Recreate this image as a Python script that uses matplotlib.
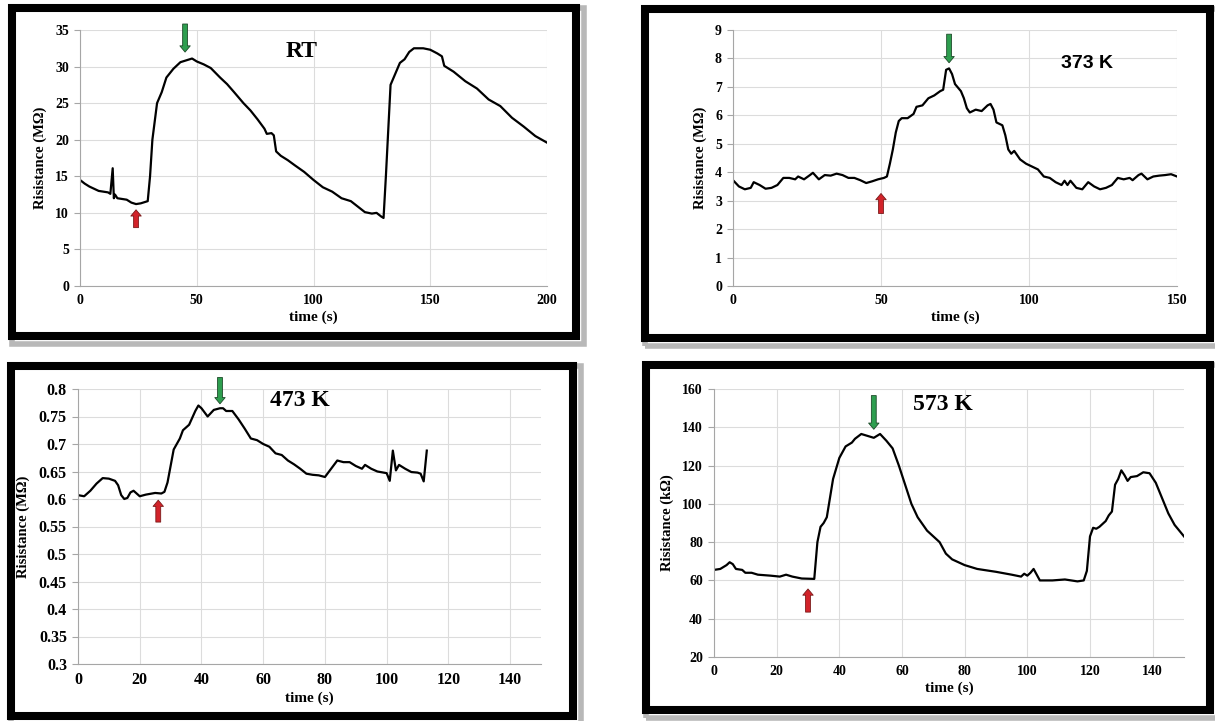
import matplotlib
matplotlib.use('Agg')
import matplotlib.pyplot as plt
from matplotlib.patches import Rectangle

# RT
rt_t = [0, 2, 4, 6, 8, 10, 12, 13, 14, 14.5, 15, 16, 18, 20, 22, 24, 26, 28, 29, 30, 31, 33,
        35, 37, 40, 43, 46, 48, 50, 53, 56, 60, 63, 66, 70, 73, 76, 79, 80, 82, 83, 84, 86,
        89, 92, 96, 100, 104, 108, 112, 116, 120, 122, 125, 127, 129, 130, 131, 133, 135,
        137, 139, 141, 143, 147, 150, 153, 155, 156, 160, 165, 170, 175, 180, 185, 190, 195, 200]
rt_r = [14.5, 14.0, 13.6, 13.3, 13.0, 12.9, 12.8, 12.6, 16.1, 12.0, 12.5, 12.0, 11.9, 11.8,
        11.4, 11.2, 11.3, 11.5, 11.6, 15.0, 20.0, 25.0, 26.5, 28.5, 29.7, 30.6, 30.9, 31.1,
        30.7, 30.3, 29.8, 28.5, 27.6, 26.5, 25.0, 24.0, 22.8, 21.5, 20.8, 20.9, 20.6, 18.4,
        17.8, 17.2, 16.5, 15.6, 14.5, 13.5, 12.9, 12.0, 11.6, 10.6, 10.1, 9.9, 10.0, 9.5,
        9.3, 15.0, 27.5, 29.0, 30.5, 31.0, 32.0, 32.5, 32.5, 32.3, 31.8, 31.4, 30.1, 29.3,
        28.0, 27.0, 25.5, 24.6, 23.0, 21.8, 20.5, 19.6]

# 373 K
k373_t = [0, 2, 4, 6, 7, 9, 11, 13, 15, 17, 19, 21, 22, 24, 26, 27, 29, 31, 33, 35, 37, 39,
          41, 43, 45, 47, 49, 51, 52, 53, 54, 55, 56, 57, 59, 61, 62, 64, 66, 68, 70, 71, 72,
          73, 74, 75, 77, 78, 79, 80, 82, 84, 86, 87, 88, 89, 91, 92, 93, 94, 95, 97, 99,
          101, 103, 105, 107, 109, 111, 112, 113, 114, 116, 118, 120, 122, 124, 126, 128,
          130, 132, 134, 135, 137, 138, 140, 142, 144, 146, 148, 150]
k373_r = [3.72, 3.5, 3.4, 3.45, 3.65, 3.55, 3.42, 3.45, 3.55, 3.8, 3.8, 3.75, 3.85, 3.75,
          3.9, 3.98, 3.75, 3.9, 3.88, 3.95, 3.9, 3.8, 3.8, 3.72, 3.62, 3.68, 3.75, 3.8, 3.85,
          4.3, 4.8, 5.4, 5.8, 5.9, 5.9, 6.05, 6.3, 6.35, 6.6, 6.7, 6.85, 6.9, 7.6, 7.65, 7.45,
          7.1, 6.85, 6.6, 6.25, 6.1, 6.2, 6.15, 6.35, 6.4, 6.2, 5.75, 5.65, 5.3, 4.8, 4.65,
          4.75, 4.45, 4.3, 4.2, 4.1, 3.85, 3.8, 3.65, 3.55, 3.7, 3.55, 3.7, 3.45, 3.4, 3.65,
          3.5, 3.4, 3.45, 3.55, 3.8, 3.75, 3.8, 3.72, 3.9, 3.95, 3.75, 3.85, 3.88, 3.9, 3.93, 3.85]

# 473 K
k473_t = [0, 2, 4, 6, 8, 10, 12, 13, 14, 15, 16, 17, 18, 20, 22, 25, 27, 28, 29, 30, 31, 33,
          34, 36, 38, 39, 40, 42, 44, 46, 47, 48, 50, 52, 54, 56, 58, 60, 62, 64, 66, 68, 70,
          72, 74, 76, 78, 80, 82, 84, 86, 88, 90, 92, 93, 95, 97, 99, 100, 101, 102, 103, 104,
          106, 108, 110, 111, 112, 113]
k473_r = [0.607, 0.605, 0.615, 0.628, 0.638, 0.637, 0.633, 0.625, 0.607, 0.600, 0.602,
          0.612, 0.615, 0.605, 0.608, 0.611, 0.610, 0.613, 0.630, 0.660, 0.690, 0.710,
          0.725, 0.735, 0.760, 0.770, 0.765, 0.750, 0.762, 0.765, 0.765, 0.760, 0.760,
          0.745, 0.728, 0.710, 0.707, 0.700, 0.695, 0.683, 0.680, 0.670, 0.663, 0.655,
          0.646, 0.644, 0.643, 0.640, 0.655, 0.670, 0.667, 0.667, 0.660, 0.655, 0.662,
          0.655, 0.650, 0.648, 0.647, 0.633, 0.688, 0.652, 0.662, 0.655, 0.649, 0.648,
          0.646, 0.632, 0.688]

# 573 K
k573_t = [0, 2, 4, 5, 6, 7, 9, 10, 12, 14, 18, 21, 23, 25, 28, 32, 33, 34, 35, 36, 37, 38,
          40, 42, 44, 45, 47, 49, 50, 51, 53, 55, 57, 59, 61, 63, 65, 68, 70, 72, 74, 76, 80,
          84, 90, 95, 98, 99, 100, 101, 102, 103, 104, 108, 112, 116, 118, 119, 120, 121, 122,
          123, 125, 126, 127, 128, 129, 130, 131, 132, 133, 135, 137, 139, 141, 143, 145, 147,
          149, 150]
k573_r = [65.5, 66, 68, 69.5, 68.5, 66, 65.5, 64, 64, 63, 62.5, 62, 63, 62, 61, 60.8, 80, 88,
          90, 93, 103, 113, 124, 130, 132, 134, 136.5, 135.5, 135, 134.5, 136.5, 133, 129,
          120, 110, 100, 93, 86, 83, 80, 74, 71, 68, 66, 64.5, 63, 62, 63.5, 62.5, 64, 66, 63,
          60, 60, 60.5, 59.5, 60, 65, 83, 87.5, 87, 88, 91, 94, 96, 110, 113, 117.5, 115, 112,
          114, 114.5, 116.5, 116, 111, 103, 95, 89, 85, 83]

SERIF = 'Liberation Serif'
SANS = 'Liberation Sans'
W, H = 1215, 721

fig = plt.figure(figsize=(W / 100, H / 100), dpi=100)


def px_axes(left, top, right, bottom):
    return fig.add_axes([left / W, 1 - bottom / H, (right - left) / W, (bottom - top) / H])


def frame(x0, y0, x1, y1):
    # drop shadow then thick black border
    fig.patches.append(Rectangle(((x0 + 4) / W, 1 - (y1 + 4) / H), (x1 - x0) / W, (y1 - y0) / H,
                                 transform=fig.transFigure, fill=False, ec='#b8b8b8', lw=4))
    fig.patches.append(Rectangle(((x0 + 4) / W, 1 - (y1 - 4) / H), (x1 - x0 - 8) / W, (y1 - y0 - 8) / H,
                                 transform=fig.transFigure, fill=False, ec='black', lw=5.8))


def style(ax, xlim, xticks, ylim, yticks, ylabel, yfmt=None, size=10):
    ax.set_xlim(*xlim)
    ax.set_ylim(*ylim)
    ax.set_xticks(xticks)
    ax.set_yticks(yticks)
    if yfmt:
        ax.set_yticklabels([yfmt(v) for v in yticks])
    ax.grid(True, color='#dcdcdc', lw=0.8)
    ax.set_axisbelow(True)
    for s in ['top', 'right']:
        ax.spines[s].set_visible(False)
    for s in ['left', 'bottom']:
        ax.spines[s].set_color('#a6a6a6')
        ax.spines[s].set_linewidth(0.8)
    ax.tick_params(axis='x', length=0, pad=6)
    ax.tick_params(axis='y', length=4, color='#a6a6a6', pad=4)
    for lab in ax.get_xticklabels() + ax.get_yticklabels():
        lab.set_fontfamily(SERIF)
        lab.set_fontweight('bold')
        lab.set_fontsize(size)
    ax.set_xlabel('time (s)', fontfamily=SERIF, fontweight='bold', fontsize=11, labelpad=2)
    ax.set_ylabel(ylabel, fontfamily=SERIF, fontweight='bold', fontsize=10.5, labelpad=6)


ARROW = 'simple,head_width=0.75,head_length=0.45,tail_width=0.35'


def arrows(ax, red, green):
    ax.annotate('', xy=(red[0], red[2]), xytext=(red[0], red[1]), annotation_clip=False,
                arrowprops=dict(arrowstyle=ARROW, fc='#d2232a', ec='#7a1a1a', lw=0.6))
    ax.annotate('', xy=(green[0], green[2]), xytext=(green[0], green[1]), annotation_clip=False,
                arrowprops=dict(arrowstyle=ARROW, fc='#2e9e4f', ec='#1e4a2a', lw=0.6))


# frames
frame(8, 4, 580, 340)
frame(641, 5, 1214, 342)
frame(7, 362, 577, 720)
frame(642, 361, 1214, 714)

# RT
ax1 = px_axes(80, 30, 547, 286)
ax1.plot(rt_t, rt_r, color='black', lw=1.6)
style(ax1, (0, 200), [0, 50, 100, 150, 200], (0, 35), list(range(0, 36, 5)), 'Risistance (MΩ)')
ax1.text(95, 32, 'RT', fontfamily=SERIF, fontweight='bold', fontsize=17, ha='center', va='center')
arrows(ax1, (24, 7.6, 10.8), (45, 36.2, 31.6))

# 373 K
ax2 = px_axes(733, 30, 1177, 286)
ax2.plot(k373_t, k373_r, color='black', lw=1.6)
style(ax2, (0, 150), [0, 50, 100, 150], (0, 9), list(range(0, 10)), 'Risistance (MΩ)')
ax2.text(119.5, 7.83, '373 K', fontfamily=SANS, fontweight='bold', fontsize=14, ha='center', va='center')
arrows(ax2, (50, 2.45, 3.35), (73, 8.95, 7.75))

# 473 K
ax3 = px_axes(78, 389, 541, 664)
ax3.plot(k473_t, k473_r, color='black', lw=1.6)
yt3 = [0.3, 0.35, 0.4, 0.45, 0.5, 0.55, 0.6, 0.65, 0.7, 0.75, 0.8]
style(ax3, (0, 150), list(range(0, 141, 20)), (0.3, 0.8), yt3, 'Risistance (MΩ)',
      yfmt=lambda v: f'{v:g}', size=11.5)
ax3.text(72, 0.78, '473 K', fontfamily=SERIF, fontweight='bold', fontsize=17, ha='center', va='center')
arrows(ax3, (26, 0.553, 0.603), (46, 0.826, 0.768))

# 573 K
ax4 = px_axes(714, 389, 1184, 657)
ax4.plot(k573_t, k573_r, color='black', lw=1.6)
style(ax4, (0, 150), list(range(0, 141, 20)), (20, 160), list(range(20, 161, 20)), 'Risistance (kΩ)')
ax4.text(73, 152, '573 K', fontfamily=SERIF, fontweight='bold', fontsize=17, ha='center', va='center')
arrows(ax4, (30, 42, 57), (51, 158, 137.5))

fig.savefig('out.png', dpi=100)
